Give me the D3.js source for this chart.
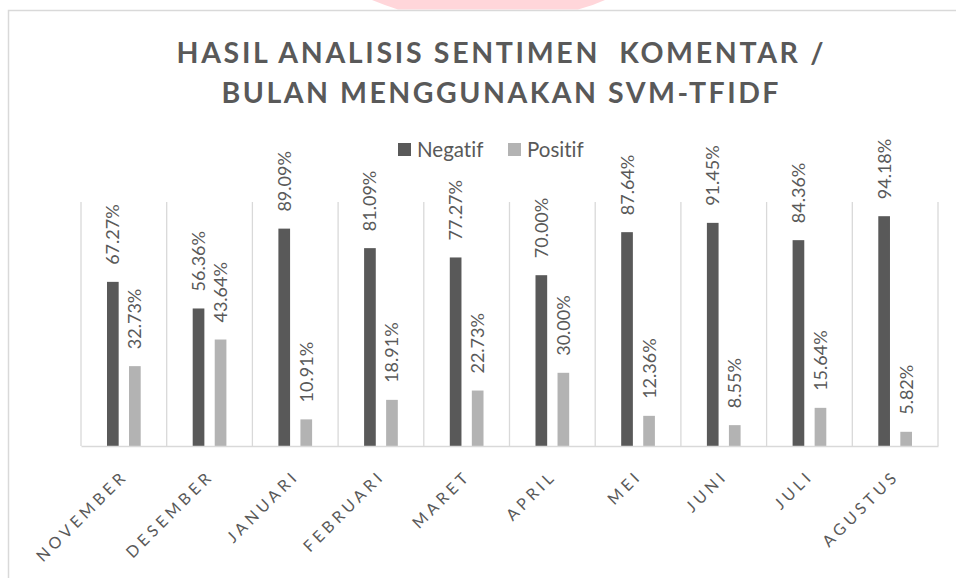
<!DOCTYPE html>
<html><head><meta charset="utf-8">
<script src="https://cdn.jsdelivr.net/npm/d3@7"></script>
<style>body{margin:0;background:#fff}svg{display:block}text{font-variant-ligatures:none;font-feature-settings:"liga" 0}</style>
</head><body><svg id="c" width="956" height="578"></svg>
<script>
const categories = ["NOVEMBER","DESEMBER","JANUARI","FEBRUARI","MARET","APRIL","MEI","JUNI","JULI","AGUSTUS"];
const seriesNames = ["Negatif","Positif"];
const negatif = [67.27,56.36,89.09,81.09,77.27,70.00,87.64,91.45,84.36,94.18];
const positif = [32.73,43.64,10.91,18.91,22.73,30.00,12.36,8.55,15.64,5.82];
const titleLines = ["HASIL ANALISIS SENTIMEN  KOMENTAR /","BULAN MENGGUNAKAN SVM-TFIDF"];
const colors = ["#595959","#b3b3b3"];

const svg = d3.select("#c");
const font = "Lato, 'Open Sans', sans-serif";
const textCol = "#595959";

// pink watermark fragment at the top
svg.append("path").attr("d","M372,0 L605,0 Q592,6 578,9.5 L398,9.5 Q384,5 372,0 Z").attr("fill","#ffd6da");
// chart border
svg.append("path").attr("d","M8.5,578 L8.5,10.5 L956,10.5").attr("fill","none").attr("stroke","#d9d9d9").attr("stroke-width",1.5);

// title
const tw = [647, 557], tb = [63, 103];
titleLines.forEach((t,i)=>{
  svg.append("text").attr("x",500).attr("y",tb[i]).attr("text-anchor","middle")
    .attr("font-family",font).attr("font-weight","bold").attr("font-size",28.5)
    .attr("fill",textCol).attr("textLength",tw[i]).attr("lengthAdjust","spacing")
    .style("white-space","pre").text(t);
});

const m = {l:81,r:938,t:202,b:446};
const x0 = d3.scaleBand().domain(categories).range([m.l,m.r]).padding(0);
const x1 = d3.scaleBand().domain(seriesNames).range([0,x0.bandwidth()]).paddingInner(0.47).paddingOuter(1.18);
const y = d3.scaleLinear().domain([0,100]).range([m.b,m.t]);

// vertical gridlines at category boundaries
const bounds = categories.map(c=>x0(c)).concat([m.r]);
svg.append("g").selectAll("line").data(bounds).join("line")
  .attr("x1",d=>d).attr("x2",d=>d).attr("y1",m.t).attr("y2",m.b)
  .attr("stroke","#d9d9d9").attr("stroke-width",1.3);

// bars
const vals = [negatif, positif];
const rows = [];
categories.forEach((c,i)=>seriesNames.forEach((s,j)=>rows.push({c,s,j,v:vals[j][i]})));
svg.append("g").selectAll("rect").data(rows).join("rect")
  .attr("x",d=>x0(d.c)+x1(d.s)).attr("width",x1.bandwidth())
  .attr("y",d=>y(d.v)).attr("height",d=>y(0)-y(d.v)).attr("fill",d=>colors[d.j]);

// data labels
svg.append("g").selectAll("text").data(rows).join("text")
  .attr("transform",d=>`translate(${x0(d.c)+x1(d.s)+x1.bandwidth()/2+6.5},${y(d.v)-17}) rotate(-90)`)
  .attr("font-family",font).attr("font-size",18).attr("fill",textCol)
  .text(d=>d.v.toFixed(2)+"%");

// x axis
const xAxis = d3.axisBottom(x0).tickSize(0).tickPadding(0);
const ax = svg.append("g").attr("transform",`translate(0,${m.b})`).call(xAxis);
ax.select(".domain").attr("stroke","#d9d9d9").attr("stroke-width",1.5);
ax.selectAll(".tick text")
  .attr("font-family",font).attr("font-size",16).attr("fill",textCol)
  .style("letter-spacing","4px")
  .attr("text-anchor","end").attr("dy",null).attr("y",0)
  .attr("transform","translate(5,31) rotate(-45)");

// legend
const lg = svg.append("g");
const lx = [398, 508];
seriesNames.forEach((s,i)=>{
  lg.append("rect").attr("x",lx[i]).attr("y",143).attr("width",13).attr("height",13).attr("fill",colors[i]);
  lg.append("text").attr("x",lx[i]+19).attr("y",157).attr("font-family",font).attr("font-size",20.5)
    .attr("fill",textCol).text(s);
});
</script></body></html>
